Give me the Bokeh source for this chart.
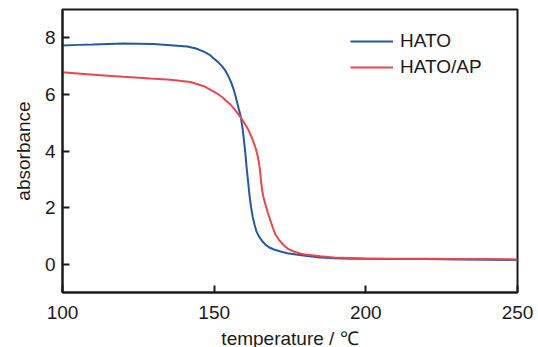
from bokeh.plotting import figure
from bokeh.models import FixedTicker, Range1d, Legend, LegendItem
from bokeh.embed import file_html
from bokeh.resources import INLINE

# HATO (blue)
hato_t = [100, 105, 110, 115, 120, 125, 130, 135.6, 141.1, 144, 146.6, 148.5, 149.9,
          151.3, 152.7, 153.8, 154.8, 155.7, 156.5, 157.1, 157.6, 158.2, 158.7, 159.3,
          159.8, 160.3, 160.7, 161.1, 161.4, 161.8, 162.2, 162.7, 163.3, 163.9, 164.7,
          165.8, 166.9, 168.2, 169.7, 171.9, 174.1, 177, 180.7, 185, 189.5, 195, 200,
          210, 220, 230, 240, 250]
hato_a = [7.73, 7.75, 7.76, 7.78, 7.80, 7.79, 7.78, 7.74, 7.69, 7.62, 7.51, 7.40, 7.27,
          7.14, 6.98, 6.82, 6.62, 6.40, 6.15, 5.92, 5.70, 5.45, 5.25, 4.85, 4.40, 3.90,
          3.42, 3.00, 2.70, 2.30, 1.99, 1.68, 1.40, 1.17, 0.99, 0.82, 0.69, 0.59, 0.52,
          0.45, 0.39, 0.34, 0.29, 0.24, 0.21, 0.19, 0.19, 0.18, 0.18, 0.17, 0.16, 0.15]

# HATO/AP (red)
hatoap_t = [100, 105, 112.5, 120, 129, 135.6, 142.2, 146.6, 149, 151.0, 152.8, 154.3,
            155.4, 156.5, 157.6, 158.7, 160, 161.4, 162.5, 163.6, 164.4, 165.0, 165.4,
            165.8, 166.3, 166.9, 167.7, 168.6, 169.4, 170.2, 171.5, 173.0, 174.5, 176.2,
            178.3, 180.7, 185, 189.5, 195, 200, 210, 220, 230, 240, 250]
hatoap_a = [6.78, 6.74, 6.68, 6.62, 6.56, 6.52, 6.44, 6.29, 6.15, 6.03, 5.89, 5.74,
            5.64, 5.50, 5.35, 5.20, 4.98, 4.72, 4.45, 4.13, 3.80, 3.42, 3.00, 2.62,
            2.35, 2.11, 1.82, 1.52, 1.27, 1.05, 0.84, 0.66, 0.53, 0.45, 0.38, 0.33,
            0.28, 0.24, 0.22, 0.20, 0.19, 0.19, 0.18, 0.18, 0.17]

x_ticks = [100, 150, 200, 250]
y_ticks = [0, 2, 4, 6, 8]

FONT = "'Liberation Sans Narrow', 'Liberation Sans', Arial, sans-serif"
INK = "#1a1a1a"

p = figure(frame_width=455, frame_height=283, output_backend="svg", toolbar_location=None,
           x_range=Range1d(100, 250), y_range=Range1d(-1, 9),
           min_border_left=62, min_border_right=21, min_border_top=9, min_border_bottom=55)
p.background_fill_color = "white"
p.border_fill_color = "white"
p.grid.visible = False
p.outline_line_color = INK
p.outline_line_width = 2
p.outline_line_alpha = 1

r1 = p.line(hato_t, hato_a, line_color="#2457a9", line_width=2)
r2 = p.line(hatoap_t, hatoap_a, line_color="#ea4650", line_width=2)

for ax in (p.xaxis[0], p.yaxis[0]):
    ax.axis_line_color = INK
    ax.axis_line_width = 2
    ax.major_tick_in = 7
    ax.major_tick_out = 0
    ax.major_tick_line_color = INK
    ax.major_tick_line_width = 2
    ax.minor_tick_line_color = None
    ax.major_label_text_font = FONT
    ax.major_label_text_font_size = "19px"
    ax.major_label_text_color = INK
    ax.axis_label_text_font = FONT
    ax.axis_label_text_font_size = "19px"
    ax.axis_label_text_font_style = "normal"
    ax.axis_label_text_color = INK

p.xaxis.ticker = FixedTicker(ticks=x_ticks)
p.yaxis.ticker = FixedTicker(ticks=y_ticks)
p.xaxis.axis_label = "temperature / \u2103"
p.yaxis.axis_label = "absorbance"
p.xaxis.major_label_standoff = 13
p.yaxis.major_label_standoff = 7
p.xaxis.axis_label_standoff = 6
p.yaxis.axis_label_standoff = 8

legend = Legend(items=[LegendItem(label="HATO", renderers=[r1]),
                       LegendItem(label="HATO/AP", renderers=[r2])],
                location=(288, 214), padding=0, margin=0, spacing=4,
                glyph_width=43, glyph_height=20, label_height=20, label_standoff=7,
                label_text_font=FONT, label_text_font_size="19px", label_text_color=INK,
                border_line_color=None, background_fill_alpha=0)
p.add_layout(legend)

open("out.html", "w").write(file_html(p, INLINE))
